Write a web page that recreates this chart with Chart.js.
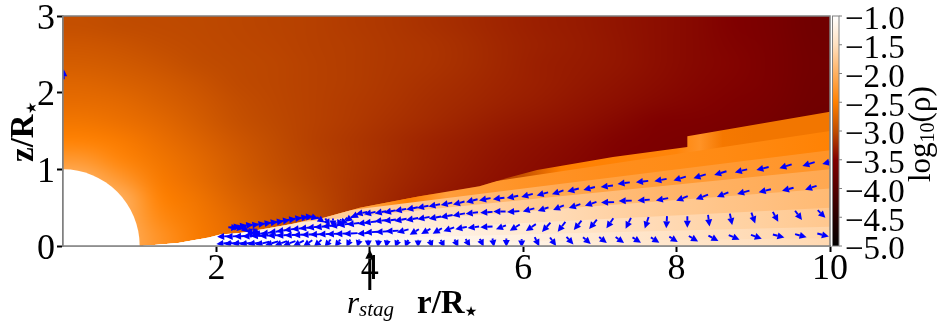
<!DOCTYPE html>
<html>
<head>
<meta charset="utf-8">
<title>log10(rho) map</title>
<script src="https://cdn.jsdelivr.net/npm/chart.js@4/dist/chart.umd.js"></script>
<style>
  html, body { margin: 0; background: #fff; }
  canvas { display: block; }
</style>
</head>
<body>
<canvas id="densityChart" width="942" height="328"></canvas>
<script>
const xTicks = [2, 4, 6, 8, 10];
const yTicks = [0, 1, 2, 3];
const cbarTicks = [-5, -4.5, -4, -3.5, -3, -2.5, -2, -1.5, -1];

// colour bar
const cbarValues = [-5, -4.5, -4, -3.5, -3, -2.5, -2, -1.5, -1];
const cbarColors = [
  [0, 0, 0], [40, 0, 0], [84, 0, 0], [128, 0, 0], [192, 76, 0],
  [255, 128, 0], [255, 176, 96], [255, 224, 192], [255, 255, 255],
];

// outflow above the disc: rows top to bottom, cell size 0.5 x 0.25
const windField = [
  [-2.97,-3.0,-3.01,-3.02,-3.04,-3.06,-3.08,-3.11,-3.14,-3.18,-3.22,-3.26,-3.3,-3.33,-3.37,-3.41,-3.45,-3.5,-3.57,-3.67],
  [-2.9,-2.93,-2.98,-3.01,-3.03,-3.05,-3.08,-3.1,-3.13,-3.16,-3.2,-3.25,-3.29,-3.32,-3.36,-3.41,-3.45,-3.49,-3.56,-3.66],
  [-2.84,-2.87,-2.92,-2.99,-3.02,-3.04,-3.07,-3.1,-3.13,-3.16,-3.2,-3.25,-3.3,-3.33,-3.36,-3.41,-3.45,-3.48,-3.56,-3.65],
  [-2.76,-2.8,-2.86,-2.93,-3.01,-3.04,-3.07,-3.1,-3.14,-3.18,-3.22,-3.26,-3.3,-3.34,-3.38,-3.42,-3.46,-3.49,-3.56,-3.66],
  [-2.69,-2.72,-2.8,-2.88,-2.98,-3.03,-3.07,-3.11,-3.15,-3.2,-3.24,-3.28,-3.32,-3.37,-3.41,-3.45,-3.48,-3.52,-3.58,-3.67],
  [-2.6,-2.65,-2.73,-2.84,-2.95,-3.02,-3.07,-3.12,-3.17,-3.22,-3.27,-3.32,-3.36,-3.4,-3.45,-3.5,-3.52,-3.56,-3.61,-3.69],
  [-2.48,-2.55,-2.66,-2.78,-2.9,-3.0,-3.08,-3.14,-3.2,-3.26,-3.31,-3.36,-3.4,-3.44,-3.49,-3.53,-3.56,-3.59,-3.64,-3.71],
  [-2.25,-2.45,-2.6,-2.72,-2.86,-2.98,-3.06,-3.13,-3.2,-3.27,-3.33,-3.38,-3.42,-3.46,-3.5,-3.55,-3.58,-3.61,-3.66,-3.73],
  [-2.0,-2.25,-2.55,-2.68,-2.83,-2.95,-3.05,-3.14,-3.22,-3.29,-3.35,-3.4,-3.44,-3.48,-3.52,-3.56,-3.6,-3.63,-3.68,-3.75],
  [-2.0,-2.0,-2.48,-2.62,-2.78,-2.9,-3.02,-3.14,-3.24,-3.32,-3.38,-3.42,-3.46,-3.5,-3.54,-3.58,-3.62,-3.66,-3.71,-3.77],
  [-2.0,-2.0,-2.4,-2.58,-2.72,-2.88,-3.0,-3.14,-3.26,-3.34,-3.4,-3.44,-3.48,-3.52,-3.56,-3.6,-3.64,-3.68,-3.73,-3.79],
  [-2.0,-2.0,-2.3,-2.55,-2.7,-2.85,-3.0,-3.14,-3.26,-3.34,-3.4,-3.44,-3.48,-3.52,-3.56,-3.6,-3.64,-3.68,-3.73,-3.79],
];

// upper edge of the disc
const surfaceR = [1.03, 1.5, 1.9, 2.05, 2.3, 2.6, 3.0, 3.2, 3.4, 3.87, 4.65, 5.43, 5.79, 6.18, 7.17, 8.14, 8.14, 10];
const surfaceZ = [0, 0.04, 0.11, 0.15, 0.17, 0.22, 0.29, 0.34, 0.37, 0.5, 0.65, 0.78, 0.887, 0.99, 1.16, 1.29, 1.43, 1.75];

// disc: one row per z/r band, top band first
const layerR = [1, 2, 3, 4, 4.5, 5, 6, 6.5, 7, 8, 8.3, 8.6, 9, 10];
const layerSlopes = [0.18, 0.15, 0.125, 0.1, 0.075, 0.05, 0.025, 0.01];
const diskField = [
  [-2.5,-2.5,-2.5,-2.5,-2.5,-3.3,-2.95,-2.5,-2.48,-2.45,-2.3,-2.58,-2.6,-2.6],
  [-2.4,-2.4,-2.2,-2.15,-2.5,-2.2,-2.3,-2.32,-2.35,-2.38,-2.39,-2.4,-2.42,-2.48],
  [-1.9,-1.9,-1.8,-1.65,-1.72,-1.82,-1.98,-2.08,-2.15,-2.22,-2.23,-2.24,-2.25,-2.3],
  [-1.3,-1.3,-1.35,-1.42,-1.46,-1.55,-1.72,-1.8,-1.86,-1.96,-1.98,-2.0,-2.02,-2.08],
  [-1,-1,-1.1,-1.24,-1.28,-1.36,-1.5,-1.56,-1.62,-1.74,-1.76,-1.79,-1.82,-1.9],
  [-1,-1,-1.05,-1.12,-1.17,-1.22,-1.36,-1.42,-1.48,-1.58,-1.6,-1.63,-1.66,-1.76],
  [-1,-1,-1.02,-1.06,-1.1,-1.14,-1.26,-1.32,-1.37,-1.47,-1.49,-1.52,-1.55,-1.63],
  [-1,-1,-1,-1.03,-1.06,-1.1,-1.2,-1.26,-1.32,-1.42,-1.44,-1.47,-1.5,-1.58],
];

// velocity arrows as [r, z, u, v]
const arrowsTop = [
  [2.25,.25,.14,.02],[2.33,.26,.14,.02],[2.41,.27,.14,.02],[2.49,.275,.14,.02],[2.57,.285,.14,.02],[2.65,.295,.14,.02],
  [2.73,.305,.14,.02],[2.81,.315,.14,.02],[2.89,.33,.14,.02],[2.97,.345,.14,.02],[3.05,.36,.14,.02],[3.13,.37,.14,.02],
  [3.2,.38,.12,.01],[3.28,.37,.1,-.03],[3.36,.34,.1,-.07],[3.45,.31,.06,-.1],[3.52,.3,0,-.12],
  [3.6,.3,-.05,-.1],[3.66,.32,-.09,-.1],[3.74,.36,-.12,-.09],[3.82,.4,-.13,-.07],
  [3.89,.43,-.15,-.03],[4.0,.43,-.15,-.03],[4.14,.44,-.15,-.03],[4.26,.45,-.15,-.03],[4.4,.47,-.15,-.03],[4.55,.49,-.15,-.03],
  [4.69,.51,-.15,-.03],[4.84,.53,-.15,-.03],[5.0,.55,-.15,-.03],[5.16,.56,-.15,-.04],[5.33,.59,-.15,-.04],[5.5,.61,-.15,-.03],
  [5.68,.62,-.15,-.02],[5.86,.64,-.15,-.03],[6.05,.66,-.15,-.04],[6.25,.68,-.15,-.04],[6.45,.7,-.15,-.05],[6.65,.73,-.15,-.04],
  [6.86,.75,-.15,-.04],[7.09,.78,-.16,-.02],[7.31,.82,-.16,-.02],[7.55,.84,-.16,-.02],[7.79,.86,-.16,-.03],[8.04,.88,-.16,-.05],
  [8.3,.91,-.16,-.05],[8.57,.95,-.16,-.05],[8.84,.98,-.16,-.04],[9.12,1.01,-.16,-.04],[9.42,1.04,-.16,-.05],[9.72,1.07,-.16,-.05],
  [9.98,1.09,-.16,-.04],
];
const arrowsUpper = [
  [2.22,.24,.13,-.01],[2.3,.235,.12,-.02],[2.38,.21,.08,-.07],[2.44,.18,.02,-.1],[2.45,.15,0,-.1],[2.5,.18,-.05,-.09],
  [2.56,.16,-.16,-.02],[2.66,.17,-.16,-.02],[2.76,.185,-.16,-.02],[2.86,.2,-.16,-.02],[2.96,.215,-.16,-.02],[3.06,.225,-.16,-.02],
  [3.16,.235,-.16,-.02],[3.26,.245,-.16,-.02],[3.36,.25,-.16,-.02],[3.46,.26,-.16,-.02],[3.56,.27,-.16,-.02],[3.66,.28,-.16,-.02],
  [3.78,.29,-.16,-.02],[3.92,.3,-.16,-.02],[4.0,.31,-.16,-.02],[4.14,.33,-.16,-.02],[4.26,.335,-.16,-.02],[4.4,.34,-.16,-.03],
  [4.55,.35,-.16,-.03],[4.7,.365,-.16,-.03],[4.85,.37,-.16,-.03],[5.0,.39,-.16,-.03],[5.16,.41,-.16,-.03],[5.33,.43,-.16,-.02],
  [5.52,.44,-.16,-.01],[5.69,.45,-.16,0],[5.87,.45,-.16,-.01],[6.07,.47,-.15,-.04],[6.26,.48,-.14,-.05],[6.46,.5,-.14,-.06],
  [6.67,.52,-.15,-.05],[6.88,.55,-.15,-.05],[7.1,.57,-.17,-.005],[7.33,.59,-.17,-.005],[7.57,.6,-.16,-.01],[7.81,.61,-.16,-.03],
  [8.07,.62,-.15,-.06],[8.33,.64,-.16,-.06],[8.6,.67,-.15,-.06],[8.87,.7,-.16,-.045],[9.15,.72,-.16,-.04],[9.45,.74,-.15,-.04],
  [9.75,.76,-.15,-.05],
];
const arrowsLower = [
  [2.1,.125,-.18,-.01],[2.21,.125,-.18,-.01],[2.32,.128,-.18,-.01],[2.43,.13,-.18,-.01],[2.54,.133,-.18,-.01],[2.65,.135,-.18,-.01],
  [2.76,.138,-.18,-.01],[2.87,.14,-.18,-.01],[2.98,.143,-.18,-.01],[3.09,.146,-.18,-.01],[3.2,.149,-.18,-.01],[3.31,.152,-.18,-.01],
  [3.42,.155,-.18,-.01],[3.53,.158,-.18,-.01],[3.64,.161,-.18,-.01],[3.75,.163,-.18,-.01],[3.92,.166,-.17,-.01],[4.02,.18,-.17,-.01],
  [4.16,.187,-.17,-.01],[4.29,.196,-.17,-.01],[4.43,.196,-.15,-.04],[4.58,.183,-.12,-.07],[4.73,.19,-.12,-.07],[4.88,.196,-.12,-.07],
  [5.03,.218,-.14,-.05],[5.19,.235,-.15,-.03],[5.35,.244,-.15,-.02],[5.52,.25,-.16,-.01],[5.71,.244,-.13,-.05],[5.89,.24,-.13,-.08],
  [6.1,.24,-.13,-.09],[6.3,.244,-.11,-.12],[6.5,.25,-.1,-.13],[6.71,.27,-.1,-.12],[6.91,.283,-.1,-.12],[7.13,.296,-.09,-.13],
  [7.37,.296,-.07,-.14],[7.61,.304,-.05,-.15],[7.87,.31,-.01,-.16],[8.14,.313,0,-.15],[8.42,.33,.02,-.15],[8.71,.348,.03,-.15],
  [9.0,.365,.05,-.14],[9.29,.38,.07,-.13],[9.59,.4,.09,-.12],[9.89,.417,.1,-.1],
];
const arrowsBottom = [
  [2.1,.035,-.2,-.02],[2.2,.035,-.2,-.02],[2.3,.035,-.19,-.02],[2.4,.035,-.19,-.03],[2.5,.035,-.18,-.03],[2.6,.035,-.18,-.04],
  [2.72,.035,-.17,-.05],[2.84,.035,-.16,-.06],[2.95,.035,-.16,-.06],[3.07,.035,-.14,-.07],[3.19,.035,-.12,-.08],[3.32,.035,-.1,-.09],
  [3.45,.035,-.08,-.1],[3.58,.035,-.07,-.1],[3.72,.035,-.05,-.1],[3.85,.035,-.03,-.1],[3.98,.03,0,-.1],[4.11,.03,-.01,-.1],
  [4.22,.03,-.02,-.1],[4.35,.03,-.04,-.1],[4.48,.03,-.04,-.1],[4.63,.03,0,-.1],[4.8,.03,.04,-.1],[4.95,.03,.05,-.1],
  [5.13,.035,.05,-.1],[5.28,.04,.06,-.1],[5.46,.043,.05,-.1],[5.61,.043,.02,-.11],[5.78,.043,0,-.11],[5.98,.035,0,-.11],
  [6.18,.056,.06,-.12],[6.39,.056,.08,-.11],[6.61,.07,.09,-.1],[6.83,.07,.1,-.09],[7.04,.078,.1,-.08],[7.26,.078,.11,-.08],
  [7.48,.078,.11,-.07],[7.72,.078,.11,-.07],[7.96,.087,.11,-.07],[8.22,.095,.12,-.07],[8.48,.1,.13,-.07],[8.75,.113,.14,-.06],
  [9.04,.12,.14,-.05],[9.33,.13,.15,-.04],[9.62,.134,.15,-.04],[9.91,.143,.15,-.04],
];
const arrowsPole = [[0.01, 2.24, 0, 0.13]];

// r_stag marker
const stagR = 4;
const stagTailZ = -0.574;
const stagTipZ = -0.05;

function valueColor(v) {
  if (v <= cbarValues[0]) return cbarColors[0];
  for (let i = 1; i < cbarValues.length; i++) {
    if (v <= cbarValues[i]) {
      const f = (v - cbarValues[i - 1]) / (cbarValues[i] - cbarValues[i - 1]);
      return cbarColors[i].map((c, k) => Math.round(cbarColors[i - 1][k] + (c - cbarColors[i - 1][k]) * f));
    }
  }
  return cbarColors[cbarColors.length - 1];
}

function cssColor(v) {
  return `rgb(${valueColor(v).join(",")})`;
}

function drawWind(ctx, area) {
  const rows = windField.length;
  const cols = windField[0].length;
  const off = document.createElement("canvas");
  off.width = cols;
  off.height = rows;
  const offCtx = off.getContext("2d");
  windField.forEach((row, j) => row.forEach((v, i) => {
    offCtx.fillStyle = cssColor(v);
    offCtx.fillRect(i, j, 1, 1);
  }));
  ctx.imageSmoothingEnabled = true;
  ctx.imageSmoothingQuality = "high";
  ctx.drawImage(off, area.left, area.top, area.width, area.height);
}

function drawDisk(ctx, x, y) {
  ctx.save();
  ctx.beginPath();
  surfaceR.forEach((r, i) => ctx.lineTo(x.getPixelForValue(r), y.getPixelForValue(surfaceZ[i])));
  ctx.lineTo(x.getPixelForValue(10), y.getPixelForValue(0));
  ctx.closePath();
  ctx.clip();
  layerSlopes.forEach((s, j) => {
    const x0 = x.getPixelForValue(0);
    const x10 = x.getPixelForValue(10);
    const grad = ctx.createLinearGradient(x0, 0, x10, 0);
    layerR.forEach((r, i) => grad.addColorStop(r / 10, cssColor(diskField[j][i])));
    ctx.fillStyle = grad;
    ctx.beginPath();
    ctx.moveTo(x0, y.getPixelForValue(0));
    ctx.lineTo(x10, y.getPixelForValue(s * 10));
    ctx.lineTo(x10, y.getPixelForValue(0));
    ctx.closePath();
    ctx.fill();
  });
  ctx.restore();
}

function drawArrow(ctx, x0, y0, x1, y1, shaft, headLen, headHalf) {
  const a = Math.atan2(y1 - y0, x1 - x0);
  const bx = x1 - Math.cos(a) * headLen;
  const by = y1 - Math.sin(a) * headLen;
  ctx.lineWidth = shaft;
  ctx.beginPath();
  ctx.moveTo(x0, y0);
  ctx.lineTo(bx, by);
  ctx.stroke();
  ctx.beginPath();
  ctx.moveTo(x1, y1);
  ctx.lineTo(bx - Math.sin(a) * headHalf, by + Math.cos(a) * headHalf);
  ctx.lineTo(bx + Math.sin(a) * headHalf, by - Math.cos(a) * headHalf);
  ctx.closePath();
  ctx.fill();
}

// text runs along one baseline, for the sub/superscripts
function drawRuns(ctx, px, py, angle, runs) {
  ctx.save();
  ctx.translate(px, py);
  ctx.rotate(angle);
  ctx.textAlign = "left";
  ctx.textBaseline = "alphabetic";
  ctx.fillStyle = "#000";
  let pen = 0;
  runs.forEach((run) => {
    ctx.font = run.font;
    ctx.fillText(run.text, pen, run.dy || 0);
    pen += ctx.measureText(run.text).width;
  });
  ctx.restore();
}

const fieldPlugin = {
  id: "densityField",
  beforeDatasetsDraw(chart) {
    const { ctx, chartArea: area, scales } = chart;
    const x = scales.x;
    const y = scales.y;
    ctx.save();
    ctx.beginPath();
    ctx.rect(area.left, area.top, area.width, area.height);
    ctx.clip();
    drawWind(ctx, area);
    drawDisk(ctx, x, y);
    // the star
    ctx.fillStyle = "#fff";
    ctx.beginPath();
    ctx.ellipse(x.getPixelForValue(0), y.getPixelForValue(0),
      x.getPixelForValue(1) - x.getPixelForValue(0),
      y.getPixelForValue(0) - y.getPixelForValue(1), 0, 0, Math.PI * 2);
    ctx.fill();
    ctx.restore();
  },
  afterDatasetsDraw(chart) {
    const { ctx, chartArea: area, scales } = chart;
    const x = scales.x;
    const y = scales.y;
    ctx.save();
    ctx.beginPath();
    ctx.rect(area.left, area.top, area.width, area.height);
    ctx.clip();
    ctx.strokeStyle = "#0000ff";
    ctx.fillStyle = "#0000ff";
    chart.data.datasets.forEach((set) => {
      set.data.forEach((p) => {
        const x0 = x.getPixelForValue(p.x - p.u / 2);
        const y0 = y.getPixelForValue(p.y - p.v / 2);
        const x1 = x.getPixelForValue(p.x + p.u / 2);
        const y1 = y.getPixelForValue(p.y + p.v / 2);
        drawArrow(ctx, x0, y0, x1, y1, 1.9, 7, 3.5);
      });
    });
    ctx.restore();
  },
  afterDraw(chart) {
    const { ctx, chartArea: area, scales } = chart;
    const x = scales.x;
    const y = scales.y;
    const c = scales.cbar;

    // frame
    ctx.save();
    ctx.strokeStyle = "#808080";
    ctx.lineWidth = 1.5;
    ctx.strokeRect(area.left, area.top, area.width, area.height);

    // colour bar
    const barLeft = area.right + 2.5;
    const barRight = area.right + 9;
    const grad = ctx.createLinearGradient(0, c.getPixelForValue(-5), 0, c.getPixelForValue(-1));
    cbarValues.forEach((v) => grad.addColorStop((v + 5) / 4, cssColor(v)));
    ctx.fillStyle = grad;
    ctx.fillRect(barLeft, area.top, barRight - barLeft, area.height);
    ctx.lineWidth = 1;
    ctx.strokeStyle = "#808080";
    ctx.strokeRect(barLeft, area.top, barRight - barLeft, area.height);
    ctx.beginPath();
    cbarTicks.forEach((v) => {
      const py = c.getPixelForValue(v);
      ctx.moveTo(barRight, py);
      ctx.lineTo(barRight + 3, py);
    });
    ctx.stroke();

    // r_stag marker
    ctx.strokeStyle = "#000";
    ctx.fillStyle = "#000";
    drawArrow(ctx, x.getPixelForValue(stagR), y.getPixelForValue(stagTailZ),
      x.getPixelForValue(stagR), y.getPixelForValue(stagTipZ), 3, 9, 4.5);
    ctx.restore();

    const serif = "Liberation Serif";
    drawRuns(ctx, 347, 313, 0, [
      { text: "r", font: `italic 31px "${serif}"` },
      { text: "stag", font: `italic 21px "${serif}"`, dy: 3 },
    ]);
    drawRuns(ctx, 417, 313, 0, [
      { text: "r/R", font: `bold 33px "${serif}"` },
      { text: "★", font: `bold 14px "DejaVu Sans"`, dy: 3 },
    ]);
    drawRuns(ctx, 33, 162, -Math.PI / 2, [
      { text: "z/R", font: `bold 33px "${serif}"` },
      { text: "★", font: `bold 14px "DejaVu Sans"`, dy: 3 },
    ]);
    drawRuns(ctx, 930, 182, -Math.PI / 2, [
      { text: "log", font: `31px "${serif}"` },
      { text: "10", font: `20px "${serif}"`, dy: 4 },
      { text: "(ρ)", font: `31px "${serif}"` },
    ]);
  },
};

// keep the plot rectangle where the picture has it
function pinScale(size) {
  return (scale) => {
    if (scale.isHorizontal()) {
      scale.height = size;
    } else {
      scale.width = size;
    }
    scale.paddingTop = 0;
    scale.paddingBottom = 0;
    scale.paddingLeft = 0;
    scale.paddingRight = 0;
  };
}

// an empty first line with a small line height pushes the label down a few pixels
const shiftedLabel = (text) => ["", text];

new Chart(document.getElementById("densityChart"), {
  type: "scatter",
  data: {
    datasets: [arrowsTop, arrowsUpper, arrowsLower, arrowsBottom, arrowsPole].map((rows) => ({
      data: rows.map(([r, z, u, v]) => ({ x: r, y: z, u, v })),
      pointRadius: 0,
      showLine: false,
    })),
  },
  options: {
    responsive: false,
    animation: false,
    layout: { padding: { top: 16, left: 0, right: 0, bottom: 0 } },
    plugins: { legend: { display: false }, tooltip: { enabled: false }, title: { display: false } },
    scales: {
      x: {
        type: "linear",
        min: 0,
        max: 10,
        afterBuildTicks: (axis) => { axis.ticks = xTicks.map((v) => ({ value: v })); },
        afterFit: pinScale(82),
        border: { color: "#808080", width: 1.5 },
        grid: { drawOnChartArea: false, tickLength: 6, tickWidth: 2, tickColor: "#000" },
        ticks: {
          color: "#000",
          font: { family: "Liberation Serif", size: 36, lineHeight: 1 },
          padding: 0,
          maxRotation: 0,
          autoSkip: false,
          callback: (v) => String(v),
        },
      },
      y: {
        type: "linear",
        min: 0,
        max: 3,
        afterBuildTicks: (axis) => { axis.ticks = yTicks.map((v) => ({ value: v })); },
        afterFit: pinScale(63),
        border: { color: "#808080", width: 1.5 },
        grid: { drawOnChartArea: false, tickLength: 6, tickWidth: 2, tickColor: "#000" },
        ticks: {
          color: "#000",
          font: { family: "Liberation Serif", size: 36, lineHeight: 0.17 },
          padding: 2,
          autoSkip: false,
          callback: (v) => shiftedLabel(String(v)),
        },
      },
      cbar: {
        type: "linear",
        position: "right",
        min: -5,
        max: -1,
        afterBuildTicks: (axis) => { axis.ticks = cbarTicks.map((v) => ({ value: v })); },
        afterFit: pinScale(112),
        border: { display: false },
        grid: { display: false, drawTicks: false },
        ticks: {
          color: "#000",
          font: { family: "Liberation Serif", size: 33, lineHeight: 0.28 },
          padding: 15,
          autoSkip: false,
          callback: (v) => shiftedLabel("\u2212" + Math.abs(v).toFixed(1)),
        },
      },
    },
  },
  plugins: [fieldPlugin],
});
</script>
</body>
</html>
